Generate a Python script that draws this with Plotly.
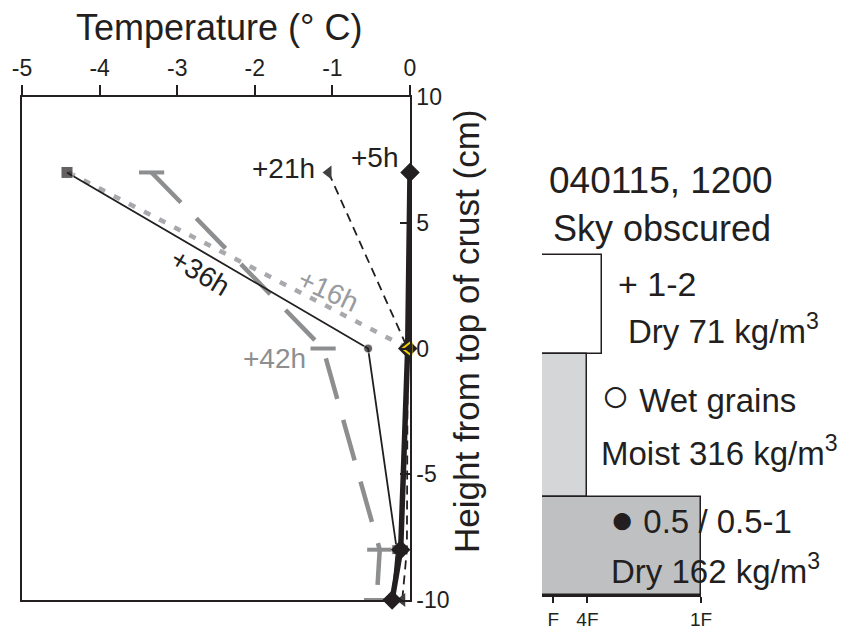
import plotly.graph_objects as go

# ---------------- data ----------------
depth = [7, 0, -8, -10]                      # height from top of crust (cm)
t_5h = [0.00, -0.03, -0.12, -0.23]
t_16h = [-4.40, -0.02, None, None]
t_21h = [-1.05, -0.03, -0.04, -0.10]
t_36h = [-4.42, -0.54, -0.17, -0.23]
t_42h = [-3.33, -1.12, -0.39, -0.43]

temp_ticks = [-5, -4, -3, -2, -1, 0]
height_ticks = [-10, -5, 0, 5, 10]

layer_top = [3.7, -0.2, -5.9]
layer_bottom = [-0.2, -5.9, -9.8]
layer_hardness = [2.65, 2.0, 7.0]
hardness_tickvals = [0.5, 2.0, 7.0]
hardness_ticktext = ["F", "4F", "1F"]

# ---------------- layout helpers ----------------
W, H = 850, 630
OFF = 8                      # page offset of the figure inside the window
L, T = 22 - OFF, 97 - OFF
R = W - (701 - OFF)
B = H - (600 - OFF)
PW, PH = W - L - R, H - T - B
FONT = "Liberation Sans, Arial, sans-serif"
INK = "#231f20"


def px(x):
    return (x - OFF - L) / PW


def py(y):
    return (H - B - (y - OFF)) / PH


fig = go.Figure()

# gray long dash +42h
fig.add_trace(go.Scatter(
    x=t_42h, y=depth, mode="lines+markers", cliponaxis=False,
    line=dict(color="#8c8e90", width=4.5, dash="42px,22px"),
    marker=dict(symbol="line-ew", size=18, line=dict(color="#8c8e90", width=4)),
    xaxis="x", yaxis="y", showlegend=False))

# gray dotted +16h (line)
fig.add_trace(go.Scatter(
    x=t_16h, y=depth, mode="lines", connectgaps=False, cliponaxis=False,
    line=dict(color="#a7a9ac", width=4.5, dash="7px,10px"),
    xaxis="x", yaxis="y", showlegend=False))

# +36h thin solid black
fig.add_trace(go.Scatter(
    x=t_36h, y=depth, mode="lines+markers", cliponaxis=False,
    line=dict(color=INK, width=1.8),
    marker=dict(symbol=["square", "circle", "square", "diamond"],
                size=[12, 9, 10, 0], color=INK),
    xaxis="x", yaxis="y", showlegend=False))

# +21h dashed black
fig.add_trace(go.Scatter(
    x=t_21h, y=depth, mode="lines+markers", cliponaxis=False,
    line=dict(color=INK, width=1.8, dash="9px,6px"),
    marker=dict(symbol="triangle-left", size=12, color="#404040",
                opacity=[1, 0, 0, 1]),
    xaxis="x", yaxis="y", showlegend=False))

# +5h thick black
fig.add_trace(go.Scatter(
    x=t_5h, y=depth, mode="lines+markers", cliponaxis=False,
    line=dict(color=INK, width=5.5),
    marker=dict(symbol="diamond", size=15, color=INK),
    xaxis="x", yaxis="y", showlegend=False))

# +16h marker (yellow open triangle)
fig.add_trace(go.Scatter(
    x=t_16h, y=depth, mode="markers", cliponaxis=False,
    marker=dict(symbol="triangle-left-open", size=12, opacity=[0, 1, 0, 0],
                color="#f2d200", line=dict(width=2, color="#f2d200")),
    xaxis="x", yaxis="y", showlegend=False))

# snow profile bars
mids = [(a + b) / 2 for a, b in zip(layer_top, layer_bottom)]
thick = [a - b for a, b in zip(layer_top, layer_bottom)]
fig.add_trace(go.Bar(
    orientation="h", x=layer_hardness, y=mids, width=thick, base=0,
    marker=dict(color=["#ffffff", "#d5d6d8", "#bfc0c2"],
                line=dict(color=INK, width=1.5)),
    xaxis="x2", yaxis="y2", showlegend=False))

annotations = []


def add_text(text, x, y, size, color=INK, xanchor="center", angle=0):
    annotations.append(dict(
        text=text, x=px(x), y=py(y), xref="paper", yref="paper",
        xanchor=xanchor, yanchor="middle", showarrow=False, textangle=angle,
        font=dict(family=FONT, size=size, color=color)))


# axis titles
add_text("Temperature (° C)", 219, 27, 36)
add_text("Height from top of crust (cm)", 466, 332, 35, angle=-90)

# line labels
add_text("+5h", 375, 157, 28)
add_text("+21h", 283, 168, 28)
add_text("+36h", 200, 272, 28, angle=31)
add_text("+16h", 328, 290, 28, color="#999b9e", angle=25)
add_text("+42h", 274, 358, 28, color="#8c8e90")

# right panel text
add_text("040115, 1200", 661, 180, 37)
add_text("Sky obscured", 662, 228, 36)
add_text("+ 1-2", 616, 284, 34, xanchor="left")
add_text("Dry 71 kg/m<sup>3</sup>", 626, 329, 33, xanchor="left")
add_text("<span style='font-size:48px'>○</span> Wet grains", 599, 396, 33, xanchor="left")
add_text("Moist 316 kg/m<sup>3</sup>", 599, 451, 33, xanchor="left")
add_text("<span style='font-size:40px'>●</span> 0.5 / 0.5-1", 608, 519, 33, xanchor="left")
add_text("Dry 162 kg/m<sup>3</sup>", 609, 569, 33, xanchor="left")

fig.update_layout(
    width=W, height=H,
    margin=dict(l=L, r=R, t=T, b=B, pad=0, autoexpand=False),
    paper_bgcolor="white", plot_bgcolor="rgba(0,0,0,0)",
    font=dict(family=FONT, color=INK),
    annotations=annotations,
    bargap=0,
    xaxis=dict(
        domain=[0, px(410)], range=[-5, 0], side="top", anchor="y",
        tickmode="array", tickvals=temp_ticks, ticktext=[str(v) for v in temp_ticks],
        ticks="outside", ticklen=10, tickwidth=1.5, tickcolor=INK,
        showline=True, linecolor=INK, linewidth=1.5, mirror=True,
        showgrid=False, zeroline=False, automargin=False,
        tickfont=dict(family=FONT, size=23, color=INK)),
    yaxis=dict(
        domain=[0, 1], range=[-10, 10], side="right", anchor="x",
        tickmode="array", tickvals=height_ticks, ticktext=[str(v) for v in height_ticks],
        ticks="inside", ticklen=10, tickwidth=1.5, tickcolor=INK,
        showline=True, linecolor=INK, linewidth=1.5, mirror=True,
        showgrid=False, zeroline=False, automargin=False,
        tickfont=dict(family=FONT, size=23, color=INK)),
    xaxis2=dict(
        domain=[px(542), 1], range=[0, 7], side="bottom", anchor="y2",
        tickmode="array", tickvals=hardness_tickvals, ticktext=hardness_ticktext,
        ticks="outside", ticklen=6, tickwidth=1.5, tickcolor=INK,
        showline=True, linecolor=INK, linewidth=1.5,
        showgrid=False, zeroline=False, automargin=False,
        tickfont=dict(family=FONT, size=19, color=INK)),
    yaxis2=dict(
        domain=[py(595), 1], range=[-9.8, 10.0], anchor="x2",
        visible=False, showgrid=False, zeroline=False, automargin=False),
)

fig.write_html("out.html")
